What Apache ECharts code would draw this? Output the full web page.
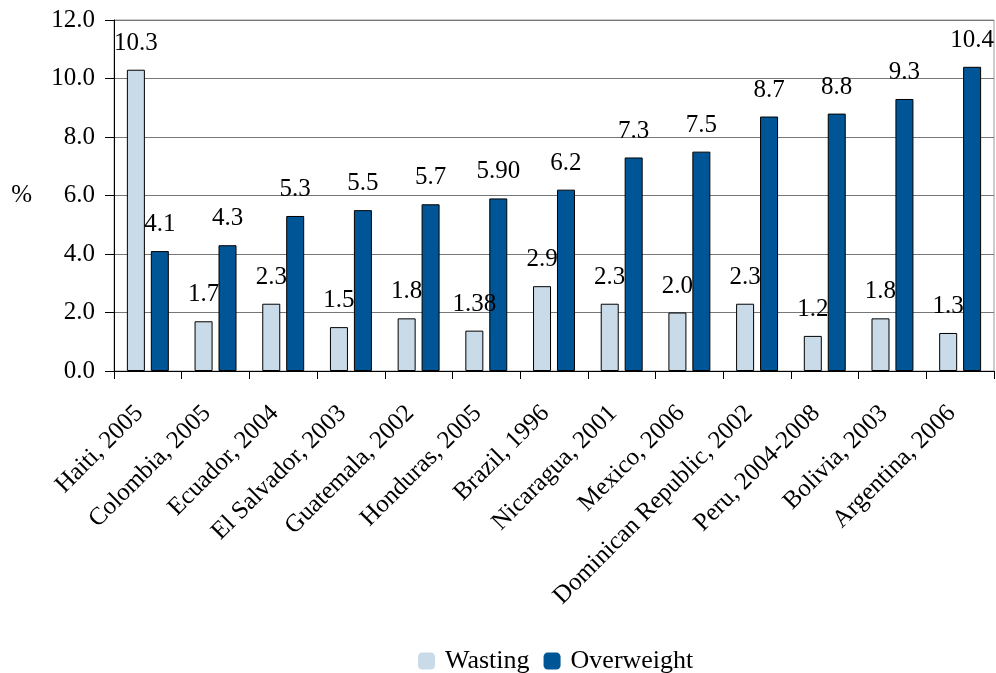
<!DOCTYPE html>
<html><head><meta charset="utf-8">
<script src="https://cdn.jsdelivr.net/npm/echarts@6/dist/echarts.min.js"></script>
<style>html,body{margin:0;padding:0;background:#fff}#c{width:996px;height:673px}</style>
</head><body><div id="c"></div>
<script>
var categories = ["Haiti, 2005","Colombia, 2005","Ecuador, 2004","El Salvador, 2003","Guatemala, 2002","Honduras, 2005","Brazil, 1996","Nicaragua, 2001","Mexico, 2006","Dominican Republic, 2002","Peru, 2004-2008","Bolivia, 2003","Argentina, 2006"];
var wasting = [10.3,1.7,2.3,1.5,1.8,1.38,2.9,2.3,2.0,2.3,1.2,1.8,1.3];
var overweight = [4.1,4.3,5.3,5.5,5.7,5.90,6.2,7.3,7.5,8.7,8.8,9.3,10.4];
var wastingLabels = ["10.3","1.7","2.3","1.5","1.8","1.38","2.9","2.3","2.0","2.3","1.2","1.8","1.3"];
var overweightLabels = ["4.1","4.3","5.3","5.5","5.7","5.90","6.2","7.3","7.5","8.7","8.8","9.3","10.4"];
var yTicks = {min:0, max:12, interval:2};

var FONT = "'Liberation Serif', 'Times New Roman', serif";
var FS = 25;
var chart = echarts.init(document.getElementById('c'));
chart.setOption({
  animation:false,
  textStyle:{fontFamily:FONT},
  grid:{left:114,right:2,top:20,bottom:302,show:true,borderColor:'#999',borderWidth:1,containLabel:false},
  legend:{top:643,left:413,itemWidth:17,itemHeight:17,itemGap:14,
    itemStyle:{borderWidth:0},
    textStyle:{fontFamily:FONT,fontSize:26,color:'#000',padding:[0,0,0,5]},
    data:['Wasting','Overweight']},
  xAxis:{type:'category',data:categories,boundaryGap:true,
    axisLine:{lineStyle:{color:'#000',width:1}},
    axisTick:{show:true,length:8,lineStyle:{color:'#000'}},
    axisLabel:{rotate:45,interval:0,margin:30,padding:[0,12,0,0],fontFamily:FONT,fontSize:FS,color:'#000'}},
  yAxis:{type:'value',min:yTicks.min,max:yTicks.max,interval:yTicks.interval,
    name:'%',nameLocation:'middle',nameRotate:0,nameGap:82,
    nameTextStyle:{fontFamily:FONT,fontSize:FS,color:'#000'},
    axisLine:{show:true,lineStyle:{color:'#000'}},
    axisTick:{show:true,inside:false,length:9,lineStyle:{color:'#000'}},
    splitLine:{lineStyle:{color:'#777'}},
    axisLabel:{margin:19,fontFamily:FONT,fontSize:FS,color:'#000',formatter:function(v){return v.toFixed(1);}}},
  series:[
    {name:'Wasting',type:'bar',data:wasting,barWidth:18,barGap:'33%',
     itemStyle:{color:'#C9DBE8',borderColor:'#000',borderWidth:1},
     label:{show:true,position:'top',distance:14,fontFamily:FONT,fontSize:FS,color:'#000',
       formatter:function(p){return wastingLabels[p.dataIndex];}}},
    {name:'Overweight',type:'bar',data:overweight,barWidth:18,barGap:'33%',
     itemStyle:{color:'#005596',borderColor:'#000',borderWidth:1},
     label:{show:true,position:'top',distance:14,fontFamily:FONT,fontSize:FS,color:'#000',
       formatter:function(p){return overweightLabels[p.dataIndex];}}}
  ]
});
</script></body></html>
